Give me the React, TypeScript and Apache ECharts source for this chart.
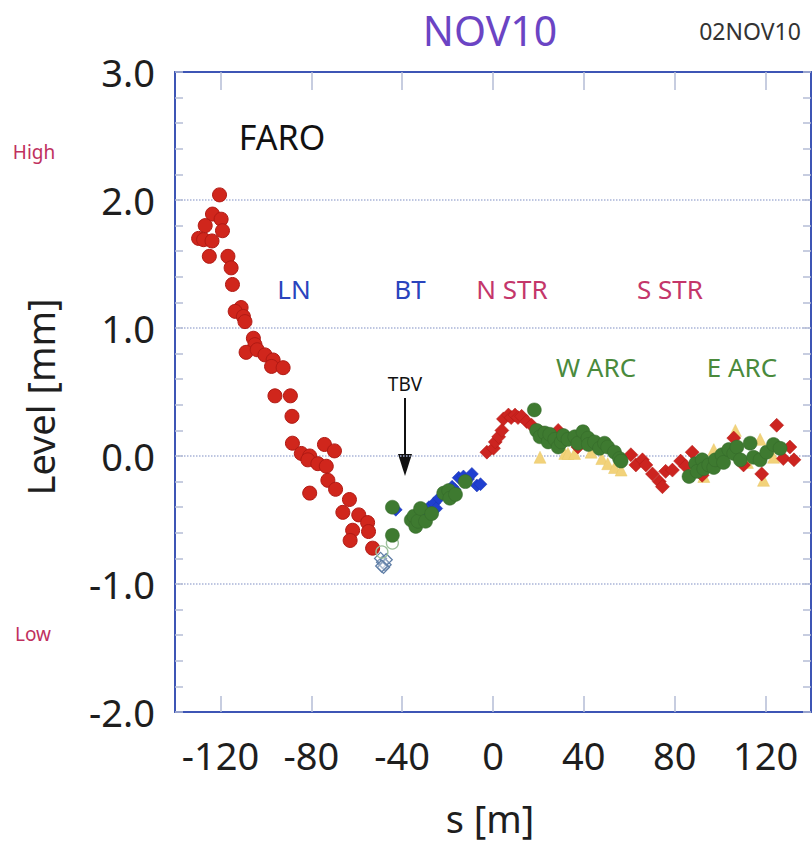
import React, { useEffect, useRef } from "react";
import * as echarts from "echarts";

const xTicks = [-120, -80, -40, 0, 40, 80, 120];

// LN region, red circles [s (m), level (mm)]
const lnCircles: number[][] = [
  [-120.4, 2.04], [-123.5, 1.89], [-119.7, 1.85], [-126.7, 1.8], [-119.1, 1.76], [-129.6, 1.7],
  [-127.4, 1.69], [-123.7, 1.68], [-124.9, 1.56], [-116.7, 1.56], [-115.3, 1.47], [-114.7, 1.34],
  [-110.9, 1.16], [-113.5, 1.13], [-109.9, 1.09], [-109.2, 1.05], [-105.5, 0.92], [-104.8, 0.87],
  [-108.7, 0.81], [-103.8, 0.83], [-100.4, 0.79], [-96.8, 0.75], [-97.5, 0.7], [-92.4, 0.69],
  [-96.0, 0.47], [-89.2, 0.47], [-88.5, 0.31], [-88.3, 0.1], [-84.4, 0.02], [-80.7, 0.0],
  [-81.5, -0.03], [-77.1, -0.06], [-73.4, -0.08], [-74.2, 0.09], [-69.8, 0.04], [-72.7, -0.19],
  [-69.3, -0.26], [-80.7, -0.29], [-63.2, -0.34], [-66.1, -0.44], [-59.1, -0.46], [-55.2, -0.52],
  [-61.8, -0.58], [-54.8, -0.59], [-62.9, -0.66], [-53.0, -0.72],
];

// BT region, blue diamonds
const btDiamonds: number[][] = [
  [-42.8, -0.42], [-30, -0.43], [-28.2, -0.4], [-26.0, -0.37], [-25.0, -0.41], [-23.8, -0.33],
  [-21.0, -0.29], [-20, -0.31], [-18, -0.24], [-17, -0.26], [-15.1, -0.17], [-13.0, -0.16],
  [-11, -0.18], [-9.3, -0.14], [-7.1, -0.23], [-5.5, -0.22],
];

// TBV, open diamonds and open circles
const tbvDiamonds: number[][] = [
  [-48.6, -0.83], [-49.5, -0.8], [-47.5, -0.85], [-48.2, -0.87], [-47, -0.81], [-49, -0.86],
];
const tbvOpenCircles: number[][] = [[-48.9, -0.75], [-44.3, -0.68]];

// N STR / S STR, red diamonds
const strDiamonds: number[][] = [
  [-2.7, 0.03], [0.2, 0.06], [1.0, 0.11], [2.5, 0.15], [3.9, 0.2], [4.6, 0.29], [6.8, 0.32],
  [8, 0.3], [9.7, 0.32], [11, 0.3], [12.6, 0.31], [14.8, 0.27], [17.0, 0.24], [22, 0.18],
  [28.7, 0.2], [37.4, 0.07], [60.7, 0.01], [62.9, -0.07], [65.8, -0.03], [67.3, -0.07],
  [70.2, -0.14], [73.2, -0.2], [74.6, -0.24], [76.0, -0.12], [79.0, -0.11], [82.6, -0.04],
  [84.8, -0.08], [87.7, 0.03], [92.1, -0.15], [106.0, 0.14], [110.3, -0.07], [118.3, -0.14],
  [124.9, 0.24], [127.8, -0.02], [130.7, 0.07], [132.5, -0.03],
];

// yellow triangles
const arcTriangles: number[][] = [
  [20.7, -0.01], [31.6, 0.02], [33, 0.02], [35.9, 0.02], [43.2, 0.03], [47.9, -0.02],
  [50.5, -0.06], [53.5, -0.09], [56.4, -0.11], [88, -0.1], [92.8, -0.16], [97.2, 0.05],
  [101.5, 0.04], [106.7, 0.2], [112, -0.05], [117.6, 0.13], [119.1, -0.19], [123.5, -0.01],
];

// green circles (BT, W ARC, E ARC)
const arcCircles: number[][] = [
  [-44.3, -0.4], [-44.3, -0.62], [-36, -0.5], [-34.8, -0.47], [-34.0, -0.55], [-33, -0.51],
  [-31.9, -0.41], [-29.7, -0.51], [-27, -0.45], [-21.7, -0.29], [-19.5, -0.27], [-19.0, -0.33],
  [-16.5, -0.3], [-12.2, -0.2],
  [18.2, 0.36], [19.2, 0.2], [20.7, 0.15], [22.8, 0.18], [24.3, 0.11], [25, 0.17], [27.2, 0.13],
  [28.7, 0.07], [30.1, 0.11], [31, 0.16], [33.0, 0.13], [36.0, 0.15], [37.4, 0.1], [39.6, 0.19],
  [41.8, 0.14], [42, 0.09], [44.7, 0.11], [46.9, 0.06], [49.1, 0.1], [50.5, 0.07], [53.5, 0.03],
  [55.7, -0.02], [56.4, -0.04],
  [86.3, -0.16], [89.2, -0.06], [89.9, -0.12], [92.1, -0.03], [92.8, -0.1], [95.0, -0.07],
  [97.2, -0.09], [97.9, -0.03], [100.8, 0.01], [101.5, -0.05], [103.8, 0.05], [106.0, 0.02],
  [107.4, 0.07], [108.9, -0.03], [113.2, 0.1], [114.7, -0.01], [117.6, -0.03], [120.5, 0.03],
  [123.5, 0.09], [126.4, 0.06],
];

const FONT = "Noto Sans";
const AXIS_BLUE = "#3d55b5";
const TICK = "#b4bcd6";

export default function App() {
  const ref = useRef<HTMLDivElement>(null);
  useEffect(() => {
    if (!ref.current) return;
    const chart = echarts.init(ref.current, null, { renderer: "svg" });
    const xBase = {
      type: "value" as const,
      min: -140,
      max: 140,
      splitLine: { show: false },
      axisLine: { show: true, onZero: false, lineStyle: { color: AXIS_BLUE, width: 2 } },
    };
    const yBase = {
      type: "value" as const,
      min: -2,
      max: 3,
      interval: 1,
      axisLine: { show: true, onZero: false, lineStyle: { color: AXIS_BLUE, width: 2 } },
      axisTick: { show: true, inside: true, length: 8, lineStyle: { color: TICK, width: 1.5 } },
      minorTick: { show: true, splitNumber: 5, length: 8, lineStyle: { color: TICK, width: 1.5 } },
    };
    chart.setOption({
      animation: false,
      backgroundColor: "#ffffff",
      textStyle: { fontFamily: FONT },
      grid: { left: 175, right: 1, top: 72, bottom: 134, containLabel: false },
      xAxis: [
        {
          ...xBase,
          position: "bottom",
          axisTick: { show: true, inside: true, length: 16, customValues: xTicks, lineStyle: { color: TICK, width: 1.5 } },
          axisLabel: { show: true, customValues: xTicks, fontSize: 38, margin: 24, color: "#1e1e1e", fontFamily: FONT },
        },
        {
          ...xBase,
          position: "top",
          axisTick: { show: true, inside: true, length: 18, customValues: xTicks, lineStyle: { color: TICK, width: 1.5 } },
          axisLabel: { show: false },
        },
      ],
      yAxis: [
        {
          ...yBase,
          position: "left",
          axisLabel: { show: true, fontSize: 38, margin: 20, color: "#1e1e1e", fontFamily: FONT, formatter: (v: number) => v.toFixed(1) },
          splitLine: { show: true, lineStyle: { type: "dotted", color: "#a9b4d8", width: 1.5 } },
        },
        {
          ...yBase,
          position: "right",
          axisLabel: { show: false },
          splitLine: { show: false },
        },
      ],
      series: [
        {
          type: "scatter", name: "LN", data: lnCircles, symbol: "circle", symbolSize: 14,
          itemStyle: { color: "#d0261c", borderColor: "#b01a14", borderWidth: 1, opacity: 1 },
        },
        {
          type: "scatter", name: "TBV open", data: tbvDiamonds, symbol: "diamond", symbolSize: 12,
          itemStyle: { color: "rgba(255,255,255,0.3)", borderColor: "#5f7ea6", borderWidth: 1.3, opacity: 1 },
        },
        {
          type: "scatter", name: "TBV circle", data: tbvOpenCircles, symbol: "circle", symbolSize: 12,
          itemStyle: { color: "rgba(255,255,255,0)", borderColor: "#9cc09a", borderWidth: 1.3, opacity: 1 },
        },
        {
          type: "scatter", name: "BT", data: btDiamonds, symbol: "diamond", symbolSize: 13,
          itemStyle: { color: "#1f3fd0", borderColor: "#1a34b0", borderWidth: 0.5, opacity: 1 },
        },
        {
          type: "scatter", name: "ARC tri", data: arcTriangles, symbol: "triangle", symbolSize: 12,
          itemStyle: { color: "#f2d27a", borderColor: "#e8c868", borderWidth: 0.5, opacity: 1 },
        },
        {
          type: "scatter", name: "STR", data: strDiamonds, symbol: "diamond", symbolSize: 14,
          itemStyle: { color: "#cc2420", borderColor: "#b01a14", borderWidth: 0.5, opacity: 1 },
        },
        {
          type: "scatter", name: "ARC", data: arcCircles, symbol: "circle", symbolSize: 14,
          itemStyle: { color: "#3e7a30", borderColor: "#35692a", borderWidth: 0.5, opacity: 1 },
        },
      ],
      graphic: [
        { type: "text", x: 490, y: 30, style: { text: "NOV10", fontSize: 41, fill: "#6b44c4", fontFamily: FONT, textAlign: "center", textVerticalAlign: "middle" } },
        { type: "text", x: 750, y: 31, style: { text: "02NOV10", fontSize: 23, fill: "#333333", fontFamily: FONT, textAlign: "center", textVerticalAlign: "middle" } },
        { type: "text", x: 40, y: 397, rotation: Math.PI / 2, style: { text: "Level [mm]", fontSize: 38, fill: "#1e1e1e", fontFamily: FONT, textAlign: "center", textVerticalAlign: "middle" } },
        { type: "text", x: 490, y: 818, style: { text: "s [m]", fontSize: 38, fill: "#1e1e1e", fontFamily: FONT, textAlign: "center", textVerticalAlign: "middle" } },
        { type: "text", x: 34, y: 152, style: { text: "High", fontSize: 19, fill: "#c0305e", fontFamily: FONT, textAlign: "center", textVerticalAlign: "middle" } },
        { type: "text", x: 33, y: 634, style: { text: "Low", fontSize: 19, fill: "#c0305e", fontFamily: FONT, textAlign: "center", textVerticalAlign: "middle" } },
        { type: "text", x: 282, y: 137, style: { text: "FARO", fontSize: 34, fill: "#111111", fontFamily: FONT, textAlign: "center", textVerticalAlign: "middle" } },
        { type: "text", x: 294, y: 289, style: { text: "LN", fontSize: 26, fill: "#2a44bd", fontFamily: FONT, textAlign: "center", textVerticalAlign: "middle" } },
        { type: "text", x: 410, y: 289, style: { text: "BT", fontSize: 26, fill: "#2a44bd", fontFamily: FONT, textAlign: "center", textVerticalAlign: "middle" } },
        { type: "text", x: 512, y: 289, style: { text: "N STR", fontSize: 26, fill: "#c4366a", fontFamily: FONT, textAlign: "center", textVerticalAlign: "middle" } },
        { type: "text", x: 670, y: 289, style: { text: "S STR", fontSize: 26, fill: "#c4366a", fontFamily: FONT, textAlign: "center", textVerticalAlign: "middle" } },
        { type: "text", x: 596, y: 367, style: { text: "W ARC", fontSize: 26, fill: "#4a8a3c", fontFamily: FONT, textAlign: "center", textVerticalAlign: "middle" } },
        { type: "text", x: 742, y: 367, style: { text: "E ARC", fontSize: 26, fill: "#4a8a3c", fontFamily: FONT, textAlign: "center", textVerticalAlign: "middle" } },
        { type: "text", x: 405, y: 384, style: { text: "TBV", fontSize: 19, fill: "#111111", fontFamily: FONT, textAlign: "center", textVerticalAlign: "middle" } },
        { type: "line", shape: { x1: 405, y1: 398, x2: 405, y2: 458 }, style: { stroke: "#111111", lineWidth: 2 } },
        { type: "polygon", shape: { points: [[398, 454], [412, 454], [405, 476]] }, style: { fill: "#111111" } },
      ],
    });
    return () => chart.dispose();
  }, []);
  return <div ref={ref} style={{ position: "absolute", left: 0, top: 0, width: 812, height: 846 }} />;
}
